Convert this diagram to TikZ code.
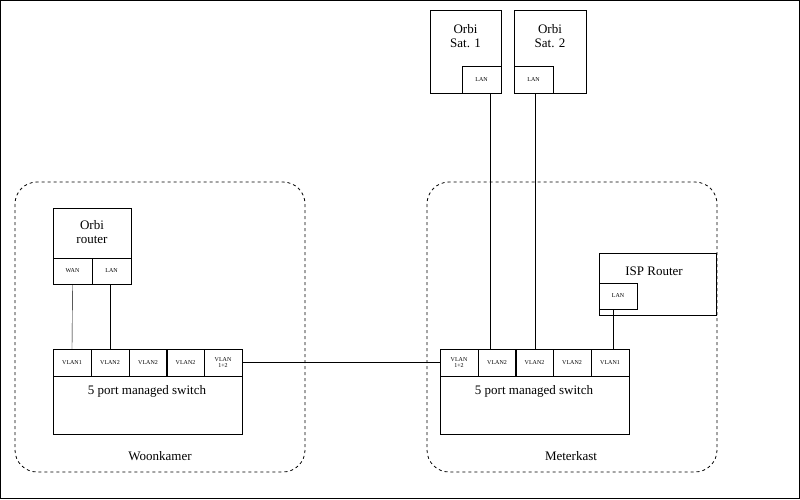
\documentclass[tikz,border=0pt]{standalone}
\usepackage{fontspec}
\setmainfont{Liberation Serif}
\begin{document}
\begin{tikzpicture}[x=1pt,y=-1pt,
 box/.style={draw,thin},
 port/.style={draw,thin,font=\fontsize{6}{6.5}\selectfont,align=center,inner sep=0},
 big/.style={font=\fontsize{13}{14}\selectfont,align=center},
 zone/.style={draw,dashed,thick,rounded corners=22pt},
 wire/.style={draw,thin}]
\draw[thin] (0.5,0.5) rectangle (799.5,498.5);
\useasboundingbox (0,0) rectangle (800,499);
\draw[zone] (15,182) rectangle (305,472);
\draw[zone] (427,182) rectangle (717,472);
\node[big] (wk) at (160,456) {Woonkamer};
\node[big] (mk) at (571,456) {Meterkast};
% Orbi router
\draw[box] (53,208) rectangle (131,284);
\node[big] (orl) at (92,232) {Orbi\\router};
\node[port,minimum width=39pt,minimum height=26pt] (wan) at (72.5,271) {WAN};
\node[port,minimum width=39pt,minimum height=26pt] (olan) at (111.5,271) {LAN};
% left switch
\draw[box] (53,349) rectangle (242,434);
\node[big] (lsw) at (147,391) {5 port managed switch};
\foreach \n/\x/\t in {l1/72/VLAN1,l2/110/VLAN2,l3/148/VLAN2,l4/185.5/VLAN2,l5/223/{VLAN\\1+2}}
  \node[port,minimum width=38pt,minimum height=27pt] (\n) at (\x,362.5) {\t};
% right switch
\draw[box] (440,349) rectangle (629,434);
\node[big] (rsw) at (534,391) {5 port managed switch};
\foreach \n/\x/\t in {r1/459/{VLAN\\1+2},r2/497/VLAN2,r3/534.5/VLAN2,r4/572/VLAN2,r5/610/VLAN1}
  \node[port,minimum width=38pt,minimum height=27pt] (\n) at (\x,362.5) {\t};
% ISP router
\draw[box] (599,253) rectangle (716,315);
\node[big] (isp) at (654,271) {ISP Router};
\node[port,minimum width=38pt,minimum height=26pt] (ilan) at (618,296) {LAN};
% Orbi sats
\draw[box] (430,10) rectangle (501,93);
\node[big] (s1) at (465.5,36) {Orbi\\Sat. 1};
\node[port,minimum width=39pt,minimum height=27pt] (s1l) at (481.5,79.5) {LAN};
\draw[box] (514,10) rectangle (586,93);
\node[big] (s2) at (550,36) {Orbi\\Sat. 2};
\node[port,minimum width=39pt,minimum height=27pt] (s2l) at (533.5,79.5) {LAN};
% wires
\draw[wire] (wan.south) -- (l1.north);
\draw[wire] (olan.south -| l2.north) -- (l2.north);
\draw[wire] (l5.east) -- (r1.west);
\draw[wire] (s1l.south -| 490,0) -- (r2.north -| 490,0);
\draw[wire] (s2l.south -| 535,0) -- (r3.north -| 535,0);
\draw[wire] (ilan.south -| 613,0) -- (r5.north -| 613,0);
\end{tikzpicture}
\end{document}
